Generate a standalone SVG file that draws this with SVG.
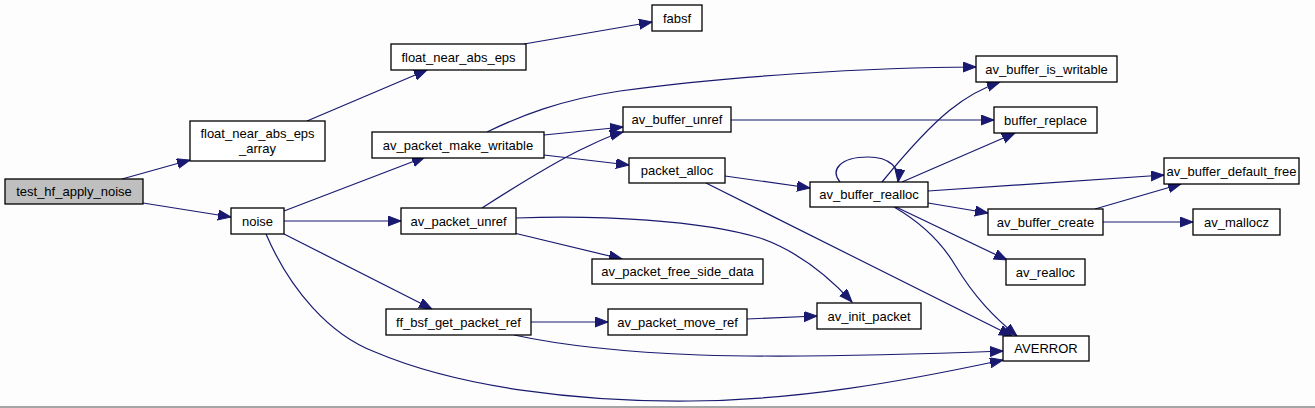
<svg xmlns="http://www.w3.org/2000/svg" width="1315" height="408" viewBox="0 0 1315 408">
<style>
.n rect{fill:#ffffff;stroke:#000000;stroke-width:1.3}
.n.root rect{fill:#bfbfbf}
.n text{font-family:"Liberation Sans",Arial,sans-serif;font-size:13px;fill:#000000;text-anchor:middle}
#edges path{fill:none;stroke:#191970;stroke-width:1.2;marker-end:url(#ah)}
</style>
<defs>
<marker id="ah" markerUnits="userSpaceOnUse" markerWidth="15" markerHeight="11" refX="13" refY="5" orient="auto">
<path d="M0,0 L13,5 L0,10 z" fill="#191970" stroke="#191970" stroke-width="1"/>
</marker>
</defs>
<rect x="0" y="0" width="1315" height="408" fill="#fcfdfc"/>
<rect x="0" y="406" width="1315" height="2" fill="#a5a5a5"/>
<g id="edges">
<path d="M122,179 L190,160"/>
<path d="M143,203 L231,217"/>
<path d="M307,121 L427,70"/>
<path d="M524,44 L652,22"/>
<path d="M284,211 L425,157"/>
<path d="M284,221 L401,221"/>
<path d="M284,234 L432,309"/>
<path d="M266,234 C290,290 330,335 375,352 C460,388 580,402 690,401 C800,400 900,382 1003,360"/>
<path d="M487,132 C520,116 560,100 620,91 C720,77 870,67 976,67"/>
<path d="M544,135 L623,127"/>
<path d="M544,155 L629,165"/>
<path d="M482,208 C510,190 550,165 580,150 C595,143 608,136 623,132"/>
<path d="M514,233 L622,259"/>
<path d="M516,218 C600,215 700,220 760,238 C800,252 830,278 852,302"/>
<path d="M531,322 L608,322"/>
<path d="M514,335 C560,345 620,352 700,355 C800,358 900,355 1003,351"/>
<path d="M747,319 L817,316"/>
<path d="M731,120 L994,120"/>
<path d="M725,176 L810,188"/>
<path d="M706,183 L1012,336"/>
<path d="M882,182 C900,160 925,130 950,110 C965,98 982,88 1000,82"/>
<path d="M902,182 L1015,133"/>
<path d="M840,182 C830,170 840,157 868,157 C890,157 900,168 898,182"/>
<path d="M928,191 L1164,175"/>
<path d="M928,203 L988,213"/>
<path d="M896,207 L1007,260"/>
<path d="M894,207 C920,222 940,240 955,265 C975,298 995,318 1017,336"/>
<path d="M1095,209 L1181,184"/>
<path d="M1103,222 L1193,222"/>
</g>
<g id="test_hf_apply_noise" class="n root"><rect x="5" y="179" width="138" height="25"/><text x="74" y="196">test_hf_apply_noise</text></g>
<g id="float_near_abs_eps_array" class="n"><rect x="190" y="121" width="135" height="40"/><text x="257.5" y="138">float_near_abs_eps</text><text x="257.5" y="153">_array</text></g>
<g id="float_near_abs_eps" class="n"><rect x="391" y="44" width="135" height="26"/><text x="458.5" y="62">float_near_abs_eps</text></g>
<g id="fabsf" class="n"><rect x="652" y="5" width="50" height="26"/><text x="677" y="23">fabsf</text></g>
<g id="av_packet_make_writable" class="n"><rect x="372" y="132" width="172" height="26"/><text x="458" y="150">av_packet_make_writable</text></g>
<g id="noise" class="n"><rect x="231" y="208" width="53" height="26"/><text x="257.5" y="226">noise</text></g>
<g id="av_packet_unref" class="n"><rect x="401" y="208" width="115" height="26"/><text x="458.5" y="226">av_packet_unref</text></g>
<g id="ff_bsf_get_packet_ref" class="n"><rect x="386" y="309" width="145" height="26"/><text x="458.5" y="327">ff_bsf_get_packet_ref</text></g>
<g id="av_buffer_is_writable" class="n"><rect x="976" y="56" width="141" height="26"/><text x="1046.5" y="74">av_buffer_is_writable</text></g>
<g id="av_buffer_unref" class="n"><rect x="623" y="107" width="108" height="25"/><text x="677" y="124">av_buffer_unref</text></g>
<g id="packet_alloc" class="n"><rect x="629" y="158" width="96" height="25"/><text x="677" y="175">packet_alloc</text></g>
<g id="av_packet_free_side_data" class="n"><rect x="592" y="259" width="171" height="25"/><text x="677.5" y="276">av_packet_free_side_data</text></g>
<g id="av_packet_move_ref" class="n"><rect x="608" y="309" width="139" height="26"/><text x="677.5" y="327">av_packet_move_ref</text></g>
<g id="av_init_packet" class="n"><rect x="817" y="303" width="104" height="26"/><text x="869" y="321">av_init_packet</text></g>
<g id="buffer_replace" class="n"><rect x="994" y="107" width="103" height="26"/><text x="1045.5" y="125">buffer_replace</text></g>
<g id="av_buffer_realloc" class="n"><rect x="810" y="182" width="118" height="25"/><text x="869" y="199">av_buffer_realloc</text></g>
<g id="AVERROR" class="n"><rect x="1003" y="336" width="86" height="25"/><text x="1046" y="353">AVERROR</text></g>
<g id="av_buffer_default_free" class="n"><rect x="1164" y="158" width="135" height="26"/><text x="1231.5" y="176">av_buffer_default_free</text></g>
<g id="av_buffer_create" class="n"><rect x="988" y="209" width="115" height="26"/><text x="1045.5" y="227">av_buffer_create</text></g>
<g id="av_mallocz" class="n"><rect x="1193" y="209" width="87" height="26"/><text x="1236.5" y="227">av_mallocz</text></g>
<g id="av_realloc" class="n"><rect x="1006" y="259" width="79" height="26"/><text x="1045.5" y="277">av_realloc</text></g>
</svg>
